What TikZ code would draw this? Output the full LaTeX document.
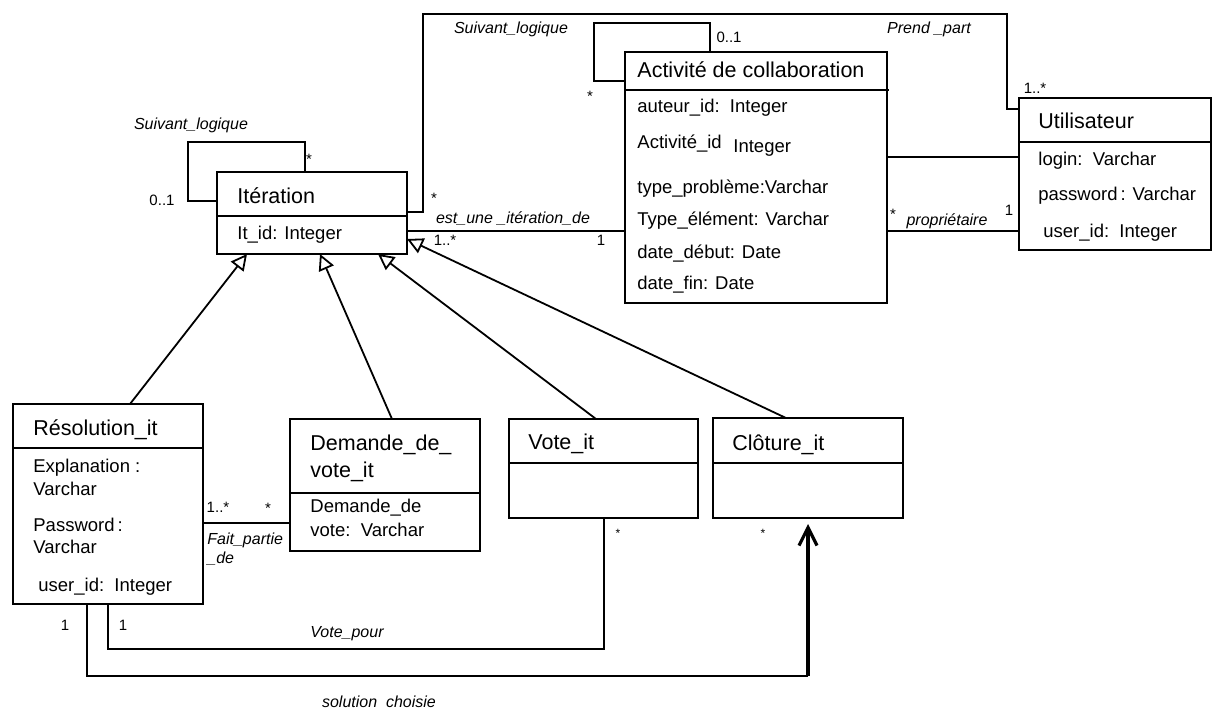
\documentclass[tikz,border=0pt]{standalone}
\usepackage{fontspec}
\setmainfont{Liberation Sans}
\usetikzlibrary{arrows.meta}
\begin{document}
\begin{tikzpicture}[x=0.5pt,y=-0.5pt,
  box/.style={draw, line width=0.9pt, inner sep=0pt, outer sep=0pt, anchor=north west},
  divider/.style={line width=0.9pt},
  ttl/.style={anchor=base west, inner sep=0pt, font=\fontsize{10.75}{12}\selectfont},
  attr/.style={anchor=base west, inner sep=0pt, font=\fontsize{9.25}{11}\selectfont},
  mult/.style={anchor=base, inner sep=0pt, font=\fontsize{7.5}{9}\selectfont},
  tinymult/.style={anchor=base, inner sep=0pt, font=\fontsize{6}{7}\selectfont},
  role/.style={anchor=base, inner sep=0pt, font=\fontsize{8}{9.5}\selectfont\itshape},
  assoc/.style={line width=0.9pt},
  gen/.style={line width=0.9pt, -{Triangle[open, length=8pt, width=8pt, line width=0.9pt]}},
  nav/.style={line width=1.6pt, -{Straight Barb[length=9pt, width=9pt, line width=1.6pt]}}
]
\useasboundingbox (0,0) rectangle (1213,709);

% ---------- class boxes ----------
\node[box, minimum width=95pt, minimum height=41pt] (it) at (217,172) {};
\draw[divider] (217,216) -- (407,216);
\node[ttl] (itT) at (237,203) {Itération};
\node[attr] (itA) at (237,239) {It\_id: Integer};

\node[box, minimum width=131pt, minimum height=125.5pt] (act) at (625,52) {};
\draw[divider] (625,90) -- (889,90);
\node[ttl] (actT) at (637,77) {Activité de collaboration};
\node[attr] (actA1) at (637,112) {auteur\_id:\ \ Integer};
\node[attr] (actA2) at (637,148) {Activité\_id};
\node[attr] (actA2b) at (733,152) {Integer};
\node[attr] (actA3) at (637,193) {type\_problème:Varchar};
\node[attr] (actA4) at (637,225) {Type\_élément: Varchar};
\node[attr] (actA5) at (637,258) {date\_début: Date};
\node[attr] (actA6) at (637,289) {date\_fin: Date};

\node[box, minimum width=96pt, minimum height=76pt] (ut) at (1019,98) {};
\draw[divider] (1019,142) -- (1211,142);
\node[ttl] (utT) at (1038,128) {Utilisateur};
\node[attr] (utA1) at (1038,165) {login:\ \ Varchar};
\node[attr] (utA2) at (1038,200) {password\,: Varchar};
\node[attr] (utA3) at (1043,237) {user\_id:\ \ Integer};

\node[box, minimum width=95pt, minimum height=100pt] (res) at (13,404) {};
\draw[divider] (13,448) -- (203,448);
\node[ttl] (resT) at (33,435) {Résolution\_it};
\node[attr] (resA1) at (33,472) {Explanation :};
\node[attr] (resA1b) at (33,495) {Varchar};
\node[attr] (resA2) at (33,531) {Password\,:};
\node[attr] (resA2b) at (33,553) {Varchar};
\node[attr] (resA3) at (38,591) {user\_id:\ \ Integer};

\node[box, minimum width=95pt, minimum height=66pt] (dem) at (290,419) {};
\draw[divider] (290,493) -- (480,493);
\node[ttl] (demT1) at (310,450) {Demande\_de\_};
\node[ttl] (demT2) at (310,477) {vote\_it};
\node[attr] (demA1) at (310,512) {Demande\_de};
\node[attr] (demA2) at (310,536) {vote:\ \ Varchar};

\node[box, minimum width=94.5pt, minimum height=49.5pt] (vote) at (509,419) {};
\draw[divider] (509,463) -- (698,463);
\node[ttl] (voteT) at (528,449) {Vote\_it};

\node[box, minimum width=95pt, minimum height=50pt] (clo) at (713,418) {};
\draw[divider] (713,463) -- (903,463);
\node[ttl] (cloT) at (732,450) {Clôture\_it};

% ---------- associations ----------
% Iteration self loop
\draw[assoc] (it.west |- 0,201) -| (188,142) -| (it.north -| 305,0);
\node[role] (l1) at (191,129) {Suivant\_logique};
\node[mult] (m1) at (309,164) {*};
\node[mult] (m2) at (162,205) {0..1};

% Iteration -> Utilisateur (top)
\draw[assoc] (it.east |- 0,212) -| (423,14) -| (1007,109) -- (ut.west |- 0,109);
\node[role] (l2) at (511,33) {Suivant\_logique};
\node[role] (l3) at (929,33) {Prend \_part};
\node[mult] (m3) at (434,203) {*};
\node[mult] (m4) at (1035,93) {1..*};

% Activite self loop
\draw[assoc] (act.west |- 0,81) -| (594,23) -| (act.north -| 710,0);
\node[mult] (m5) at (729,42) {0..1};
\node[mult] (m6) at (590,101) {*};

% est_une_iteration_de
\draw[assoc] (it.east |- 0,231) -- (act.west |- 0,231);
\node[role] (l4) at (513,223) {est\_une \_itération\_de};
\node[mult] (m7) at (445,245) {1..*};
\node[mult] (m8) at (601,245) {1};

% Activite - Utilisateur
\draw[assoc] (act.east |- 0,157) -- (ut.west |- 0,157);
\draw[assoc] (act.east |- 0,231) -- (ut.west |- 0,231);
\node[role] (l5) at (947,225) {propriétaire};
\node[mult] (m9) at (893,219) {*};
\node[mult] (m10) at (1009,215) {1};

% Fait_partie_de
\draw[assoc] (res.east |- 0,523) -- (dem.west |- 0,523);
\node[mult] (m11) at (218,512) {1..*};
\node[mult] (m12) at (268,513) {*};
\node[role, anchor=base west] (l6a) at (207,544) {Fait\_partie};
\node[role, anchor=base west] (l6b) at (207,563) {\_de};

% Vote_pour
\draw[assoc] (vote.south -| 604,0) |- (108,649) -- (res.south -| 108,0);
\node[role] (l7) at (347,637) {Vote\_pour};
\node[mult] (m13) at (123,630) {1};
\node[tinymult] (m14) at (618,537) {*};

% solution choisie
\draw[assoc] (res.south -| 87,0) |- (808,676);
\draw[nav, shorten >=3pt] (808,676) -- (clo.south -| 808,0);
\node[role] (l8) at (379,707) {solution\ \ choisie};
\node[mult] (m15) at (65,630) {1};
\node[tinymult] (m16) at (763,537) {*};

% ---------- generalisations ----------
\draw[gen] (res.north -| 130,0) -- (it.south -| 247,0);
\draw[gen] (dem.north -| 392,0) -- (it.south -| 320,0);
\draw[gen] (vote.north -| 596,0) -- (it.south -| 378,0);
\draw[gen] (clo.north -| 786,0) -- (it.east |- 0,239);
\end{tikzpicture}
\end{document}
